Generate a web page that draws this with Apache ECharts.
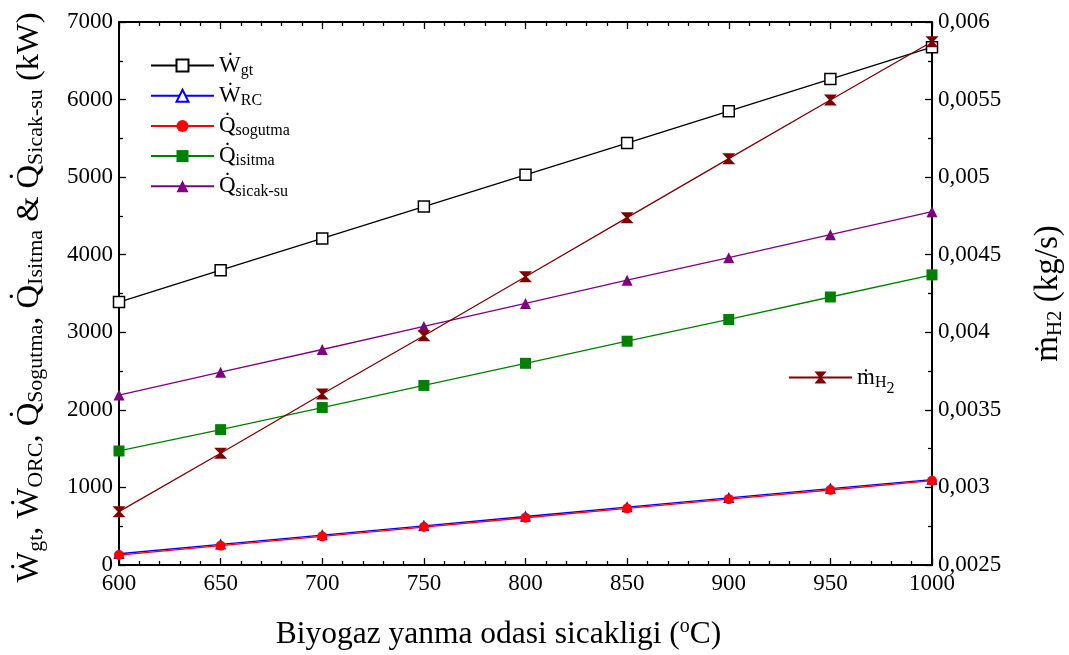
<!DOCTYPE html>
<html>
<head>
<meta charset="utf-8">
<script src="https://cdn.jsdelivr.net/npm/echarts@6/dist/echarts.min.js"></script>
<style>
  html, body { margin: 0; padding: 0; background: #fff; }
  #chart { width: 1069px; height: 655px; }
</style>
</head>
<body>
<div id="chart"></div>
<script>
var temps = [600, 650, 700, 750, 800, 850, 900, 950, 1000]
var wgt = [3390, 3800, 4210, 4620, 5030, 5440, 5850, 6265, 6675]
var wrc = [145, 265, 385, 505, 625, 745, 865, 985, 1100]
var qSogutma = [128, 249, 369, 489, 609, 729, 849, 967, 1087]
var qIsitma = [1470, 1745, 2030, 2315, 2600, 2885, 3165, 3455, 3740]
var qSicakSu = [2190, 2485, 2778, 3075, 3372, 3672, 3962, 4258, 4555]
var mH2 = [0.002844, 0.00322, 0.003602, 0.003978, 0.004358, 0.004739, 0.005119, 0.005497, 0.005873]

var FONT = 'Liberation Serif'
var DOT = '\u0307'

var pairs = function (ys) {
  return temps.map(function (t, i) { return [t, ys[i]] })
}

var legendText = {
  Wgt: '{m|\u1E86}{s|gt}',
  WRC: '{m|\u1E86}{s|RC}',
  Qsog: '{m|Q' + DOT + '}{s|sogutma}',
  Qisi: '{m|Q' + DOT + '}{s|isitma}',
  Qsic: '{m|Q' + DOT + '}{s|sicak-su}',
  mH2: '{m|\u1E41}{s|H}{ss|2}'
}

var legendRich = {
  m: { fontFamily: FONT, fontSize: 23, lineHeight: 26, color: '#000' },
  s: { fontFamily: FONT, fontSize: 16, lineHeight: 14, color: '#000', verticalAlign: 'bottom', padding: [0, 0, 0, 0] },
  ss: { fontFamily: FONT, fontSize: 16, lineHeight: 10, color: '#000', verticalAlign: 'bottom', padding: [0, 0, -6, 0] }
}

var axisCommon = {
  axisLine: { show: true, lineStyle: { color: '#000', width: 2 } },
  axisTick: { show: true, inside: true, length: 7, lineStyle: { color: '#000', width: 1.3 } },
  minorTick: { show: true, length: 4, lineStyle: { color: '#000', width: 1.3 } },
  splitLine: { show: false },
  minorSplitLine: { show: false },
  axisLabel: { fontFamily: FONT, fontSize: 23, color: '#000', formatter: function (v) { return String(v) } }
}

var line = function (name, data, color, symbol, size, itemStyle, yIndex) {
  return {
    name: name,
    type: 'line',
    yAxisIndex: yIndex || 0,
    data: data,
    symbol: symbol,
    symbolSize: size,
    showAllSymbol: true,
    lineStyle: { color: color, width: 1.3 },
    itemStyle: itemStyle,
    emphasis: { disabled: true },
    animation: false
  }
}

var hourglass = 'path://M0,0H10L6,5L10,10H0L4,5Z'

var option = {
  backgroundColor: '#fff',
  animation: false,
  grid: { left: 119, right: 137, top: 22, bottom: 90, containLabel: false, outerBoundsMode: 'none' },
  legend: [
    {
      orient: 'vertical',
      left: 150,
      top: 54,
      padding: 0,
      itemWidth: 63,
      itemHeight: 15,
      itemGap: 5.7,
      data: ['Wgt', 'WRC', 'Qsog', 'Qisi', 'Qsic'],
      formatter: function (n) { return legendText[n] },
      textStyle: { rich: legendRich },
      selectedMode: false
    },
    {
      orient: 'vertical',
      left: 788,
      top: 366,
      padding: 0,
      itemWidth: 63,
      itemHeight: 15,
      data: ['mH2'],
      formatter: function (n) { return legendText[n] },
      textStyle: { rich: legendRich },
      selectedMode: false
    }
  ],
  xAxis: [
    Object.assign({}, axisCommon, {
      type: 'value',
      min: 600,
      max: 1000,
      interval: 50,
      minorTick: Object.assign({}, axisCommon.minorTick, { splitNumber: 5 }),
      axisLabel: Object.assign({}, axisCommon.axisLabel, { margin: 7 }),
      name: '{t|Biyogaz yanma odasi sicakligi (}{sup|o}{t|C)}',
      nameLocation: 'middle',
      nameGap: 52,
      nameTextStyle: {
        padding: [0, 54, 0, 0],
        rich: {
          t: { fontFamily: FONT, fontSize: 31.5, color: '#000', lineHeight: 36 },
          sup: { fontFamily: FONT, fontSize: 20, color: '#000', lineHeight: 36, verticalAlign: 'top', padding: [0, 0, 0, 0] }
        }
      }
    }),
    Object.assign({}, axisCommon, {
      type: 'value',
      position: 'top',
      min: 600,
      max: 1000,
      interval: 50,
      minorTick: Object.assign({}, axisCommon.minorTick, { splitNumber: 5 }),
      axisLabel: { show: false }
    })
  ],
  yAxis: [
    Object.assign({}, axisCommon, {
      type: 'value',
      min: 0,
      max: 7000,
      interval: 1000,
      minorTick: Object.assign({}, axisCommon.minorTick, { splitNumber: 2 }),
      axisLabel: Object.assign({}, axisCommon.axisLabel, { margin: 6 }),
      name: '{m|\u1E86}{s|gt}{m|, \u1E86}{s|ORC}{m|, Q' + DOT + '}{s|Sogutma}{m|, Q' + DOT + '}{s|Isitma}{m| & Q' + DOT + '}{s|Sicak-su}{m| (kW)}',
      nameLocation: 'middle',
      nameRotate: 90,
      nameGap: 72,
      nameTextStyle: {
        padding: [0, 8, 0, 0],
        rich: {
          m: { fontFamily: FONT, fontSize: 32.5, color: '#000', lineHeight: 36 },
          s: { fontFamily: FONT, fontSize: 22, color: '#000', lineHeight: 20, verticalAlign: 'bottom', padding: [0, 0, 0, 0] }
        }
      }
    }),
    Object.assign({}, axisCommon, {
      type: 'value',
      position: 'right',
      min: 0.0025,
      max: 0.006,
      interval: 0.0005,
      minorTick: Object.assign({}, axisCommon.minorTick, { splitNumber: 2 }),
      axisLabel: Object.assign({}, axisCommon.axisLabel, {
        margin: 6,
        formatter: function (v) { return String(parseFloat(v.toFixed(5))).replace('.', ',') }
      }),
      name: '{m|\u1E41}{s|H2}{m| (kg/s)}',
      nameLocation: 'middle',
      nameRotate: 90,
      nameGap: 98,
      nameTextStyle: {
        rich: {
          m: { fontFamily: FONT, fontSize: 33, color: '#000', lineHeight: 36 },
          s: { fontFamily: FONT, fontSize: 21, color: '#000', lineHeight: 20, verticalAlign: 'bottom' }
        }
      }
    })
  ],
  series: [
    line('Wgt', pairs(wgt), '#000', 'rect', 11, { color: '#fff', borderColor: '#000', borderWidth: 1.5 }),
    line('WRC', pairs(wrc), '#0000ff', 'triangle', 9, { color: '#fff', borderColor: '#0000ff', borderWidth: 1.3 }),
    line('Qsog', pairs(qSogutma), '#ff0000', 'circle', 10, { color: '#ff0000' }),
    line('Qisi', pairs(qIsitma), '#008000', 'rect', 11, { color: '#008000' }),
    line('Qsic', pairs(qSicakSu), '#800080', 'triangle', 11, { color: '#800080' }),
    line('mH2', pairs(mH2), '#800000', hourglass, [13, 11], { color: '#800000' }, 1)
  ]
}

var chart = echarts.init(document.getElementById('chart'), null, { renderer: 'canvas' })
chart.setOption(option)
</script>
</body>
</html>
